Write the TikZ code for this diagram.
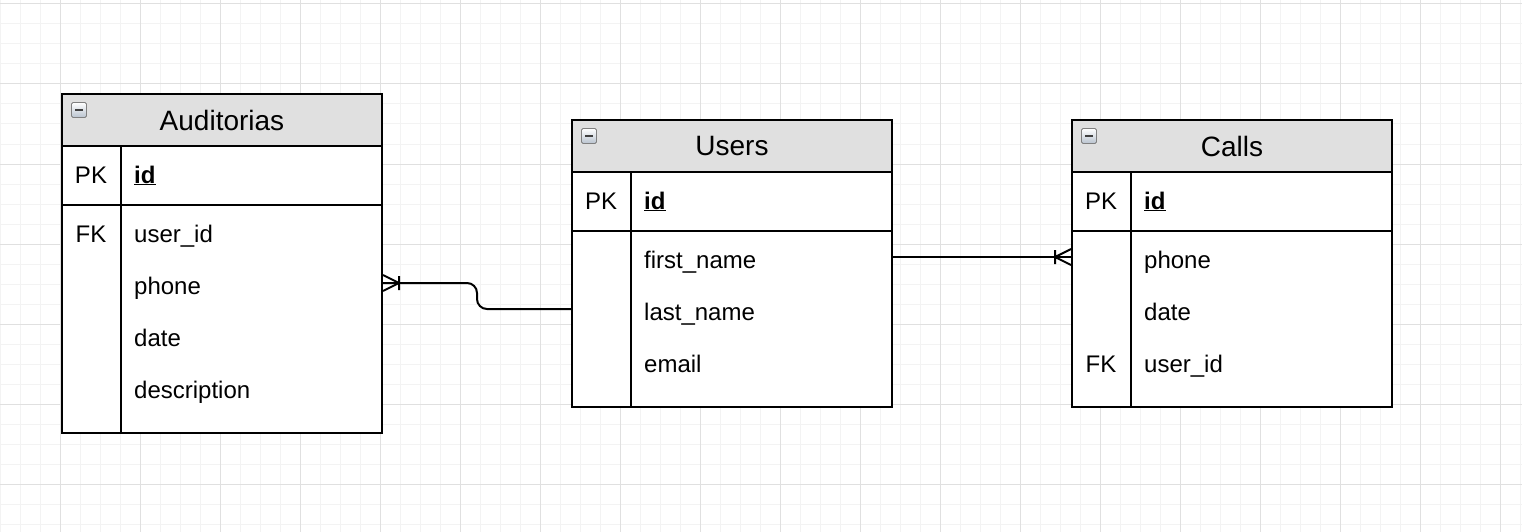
\documentclass[tikz,border=0pt]{standalone}
\usepackage{fontspec}
\setmainfont{Liberation Sans}
\usetikzlibrary{positioning}
\definecolor{gridminor}{HTML}{F3F3F3}
\definecolor{gridmajor}{HTML}{E0E0E0}
\definecolor{headfill}{HTML}{E0E0E0}
\definecolor{iconfill}{HTML}{B9C3CF}

\begin{document}
\begin{tikzpicture}[x=1pt,y=-1pt,
  ln/.style={line width=2pt,draw=black},
  tbl/.style={ln,fill=white,anchor=north west,inner sep=0pt,minimum width=320pt},
  hdr/.style={ln,fill=headfill,anchor=north west,inner sep=0pt,minimum width=320pt,minimum height=52pt,font=\fontsize{28pt}{32pt}\selectfont},
  key/.style={inner sep=0pt,text height=18pt,text depth=2pt,font=\fontsize{24pt}{28pt}\selectfont},
  fld/.style={key,anchor=west},
  icon/.style={draw=gray,line width=0.8pt,rounded corners=1.5pt,minimum size=15pt,inner sep=0pt,top color=white,bottom color=iconfill,
    path picture={\draw[line width=2pt,black!75] ([xshift=-4pt]path picture bounding box.center) -- ([xshift=4pt]path picture bounding box.center);}},
  rel/.style={line width=2pt}]
\useasboundingbox (0,0) rectangle (1522,532);
\fill[white] (0,0) rectangle (1522,532);
\foreach \x in {0,20,...,1520} \draw[gridminor,line width=1pt] (\x,0) -- (\x,532);
\foreach \y in {4,24,...,524} \draw[gridminor,line width=1pt] (0,\y) -- (1522,\y);
\foreach \x in {60,140,...,1500} \draw[gridmajor,line width=1pt] (\x,0) -- (\x,532);
\foreach \y in {4,84,...,484} \draw[gridmajor,line width=1pt] (0,\y) -- (1522,\y);

\node[tbl,minimum height=339pt] (aud) at (61,93) {};
\node[hdr] (aud-head) at (61,93) {Auditorias};
\node[icon] (aud-icon) at (79,110) {};
\draw[ln] (61,205) -- (381,205) (121,145) -- (121,432);
\node[key] (aud-pk) at (91,175) {PK};
\node[fld] (aud-id) at (134,175) {\underline{\textbf{id}}};
\node[key] (aud-fk) at (91,234) {FK};
\node[fld] (aud-user) at (134,234) {user\_id};
\node[fld] (aud-phone) at (134,286) {phone};
\node[fld] (aud-date) at (134,338) {date};
\node[fld] (aud-desc) at (134,390) {description};

\node[tbl,minimum height=287pt] (usr) at (571,119) {};
\node[hdr] (usr-head) at (571,119) {Users};
\node[icon] (usr-icon) at (589,136) {};
\draw[ln] (571,231) -- (891,231) (631,171) -- (631,406);
\node[key] (usr-pk) at (601,201) {PK};
\node[fld] (usr-id) at (644,201) {\underline{\textbf{id}}};
\node[fld] (usr-first) at (644,260) {first\_name};
\node[fld] (usr-last) at (644,312) {last\_name};
\node[fld] (usr-mail) at (644,364) {email};

\node[tbl,minimum height=287pt] (cal) at (1071,119) {};
\node[hdr] (cal-head) at (1071,119) {Calls};
\node[icon] (cal-icon) at (1089,136) {};
\draw[ln] (1071,231) -- (1391,231) (1131,171) -- (1131,406);
\node[key] (cal-pk) at (1101,201) {PK};
\node[fld] (cal-id) at (1144,201) {\underline{\textbf{id}}};
\node[fld] (cal-phone) at (1144,260) {phone};
\node[fld] (cal-date) at (1144,312) {date};
\node[key] (cal-fk) at (1101,364) {FK};
\node[fld] (cal-user) at (1144,364) {user\_id};

\coordinate[yshift=3pt] (aud-end) at (aud.east |- aud-phone);
\coordinate[yshift=3pt] (usr-in) at (usr.west |- usr-last);
\coordinate[yshift=3pt] (usr-out) at (usr.east |- usr-first);
\coordinate[yshift=3pt] (cal-end) at (cal.west |- cal-phone);
\draw[rel,rounded corners=10pt] (usr-in) -- ++(-94,0) |- (aud-end);
\draw[rel] (aud-end) ++(0,-8) -- ++(16,8) -- ++(-16,8) (aud-end) ++(16,-7) -- ++(0,14);
\draw[rel] (usr-out) -- (cal-end);
\draw[rel] (cal-end) ++(0,-8) -- ++(-16,8) -- ++(16,8) (cal-end) ++(-16,-7) -- ++(0,14);
\end{tikzpicture}
\end{document}
